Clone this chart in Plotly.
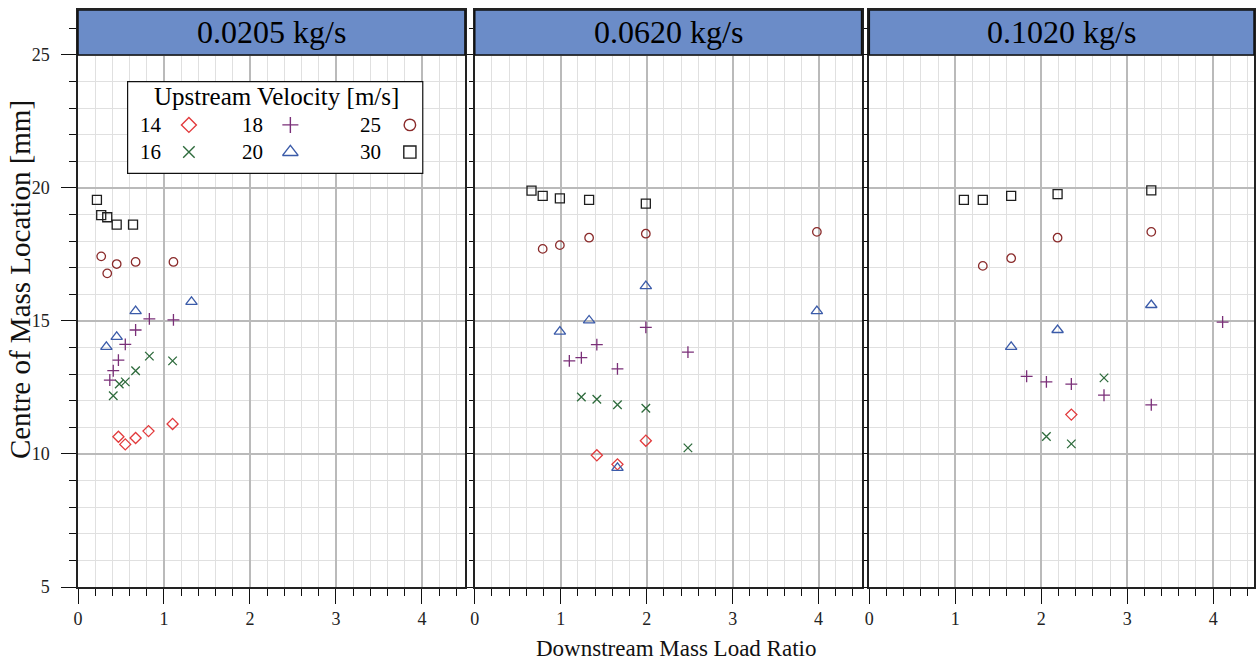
import plotly.graph_objects as go

# ---------------- data ----------------
panels = ["0.0205 kg/s", "0.0620 kg/s", "0.1020 kg/s"]
velocities = ["14", "16", "18", "20", "25", "30"]

# panel 1 : 0.0205 kg/s
p1_v14_x = [1.10, 0.82, 0.67, 0.47, 0.55]
p1_v14_y = [11.13, 10.86, 10.60, 10.65, 10.36]
p1_v16_x = [0.83, 1.10, 0.67, 0.55, 0.48, 0.41]
p1_v16_y = [13.68, 13.50, 13.13, 12.71, 12.63, 12.19]
p1_v18_x = [0.83, 1.11, 0.67, 0.55, 0.47, 0.41, 0.37]
p1_v18_y = [15.08, 15.04, 14.66, 14.12, 13.53, 13.13, 12.78]
p1_v20_x = [0.67, 1.32, 0.45, 0.33]
p1_v20_y = [15.37, 15.72, 14.40, 14.03]
p1_v25_x = [0.27, 0.45, 0.67, 1.11, 0.34]
p1_v25_y = [17.43, 17.14, 17.22, 17.22, 16.79]
p1_v30_x = [0.22, 0.27, 0.34, 0.45, 0.64]
p1_v30_y = [19.55, 18.98, 18.90, 18.62, 18.62]

# panel 2 : 0.0620 kg/s
p2_v14_x = [1.99, 1.42, 1.66]
p2_v14_y = [10.50, 9.95, 9.61]
p2_v16_x = [1.24, 1.42, 1.66, 1.99, 2.48]
p2_v16_y = [12.14, 12.06, 11.85, 11.72, 10.23]
p2_v18_x = [1.99, 2.48, 1.42, 1.24, 1.10, 1.66]
p2_v18_y = [14.76, 13.83, 14.11, 13.62, 13.50, 13.20]
p2_v20_x = [1.99, 3.98, 1.33, 0.99, 1.66]
p2_v20_y = [16.31, 15.37, 15.02, 14.60, 9.48]
p2_v25_x = [0.79, 0.99, 1.33, 1.99, 3.98]
p2_v25_y = [17.71, 17.85, 18.13, 18.28, 18.35]
p2_v30_x = [0.66, 0.79, 0.99, 1.33, 1.99]
p2_v30_y = [19.90, 19.70, 19.61, 19.55, 19.41]

# panel 3 : 0.1020 kg/s
p3_v14_x = [2.35]
p3_v14_y = [11.48]
p3_v16_x = [2.73, 2.06, 2.35]
p3_v16_y = [12.86, 10.66, 10.38]
p3_v18_x = [4.11, 1.83, 2.06, 2.35, 2.73, 3.28]
p3_v18_y = [14.96, 12.92, 12.71, 12.63, 12.21, 11.85]
p3_v20_x = [3.28, 2.19, 1.65]
p3_v20_y = [15.60, 14.66, 14.03]
p3_v25_x = [1.32, 1.65, 2.19, 3.28]
p3_v25_y = [17.07, 17.36, 18.13, 18.35]
p3_v30_x = [1.10, 1.32, 1.65, 2.19, 3.28]
p3_v30_y = [19.55, 19.55, 19.70, 19.77, 19.91]

data = [
    {"14": (p1_v14_x, p1_v14_y), "16": (p1_v16_x, p1_v16_y), "18": (p1_v18_x, p1_v18_y),
     "20": (p1_v20_x, p1_v20_y), "25": (p1_v25_x, p1_v25_y), "30": (p1_v30_x, p1_v30_y)},
    {"14": (p2_v14_x, p2_v14_y), "16": (p2_v16_x, p2_v16_y), "18": (p2_v18_x, p2_v18_y),
     "20": (p2_v20_x, p2_v20_y), "25": (p2_v25_x, p2_v25_y), "30": (p2_v30_x, p2_v30_y)},
    {"14": (p3_v14_x, p3_v14_y), "16": (p3_v16_x, p3_v16_y), "18": (p3_v18_x, p3_v18_y),
     "20": (p3_v20_x, p3_v20_y), "25": (p3_v25_x, p3_v25_y), "30": (p3_v30_x, p3_v30_y)},
]

# ---------------- styles ----------------
FONT = "Liberation Serif"
styles = {
    "14": dict(symbol="diamond-open", color="#e23a3c", size=8.5),
    "16": dict(symbol="x-thin-open", color="#2e6b3c", size=8.5),
    "18": dict(symbol="cross-thin-open", color="#7a2f78", size=8.5),
    "20": dict(symbol="triangle-up-open", color="#3b5ba9", size=10),
    "25": dict(symbol="circle-open", color="#8a2a2a", size=8.5),
    "30": dict(symbol="square-open", color="#1e1e1e", size=9),
}
LEG_SCALE = 1.35

W, H = 1256, 660
ML, MR, MT, MB = 78, 0, 10, 73
PW, PH = W - ML - MR, H - MT - MB
domains = [[0.0, 0.329], [0.3374, 0.6663], [0.6729, 1.0]]
xranges = [[0, 4.5], [0, 4.5], [0, 4.475]]
YR = [5, 26.69]

fig = go.Figure()

for i, pdata in enumerate(data):
    xa = "x" if i == 0 else f"x{i+1}"
    ya = "y" if i == 0 else f"y{i+1}"
    for v in velocities:
        xs, ys = pdata[v]
        st = styles[v]
        fig.add_trace(go.Scatter(
            x=xs, y=ys, mode="markers", xaxis=xa, yaxis=ya, showlegend=False,
            name=v, cliponaxis=False,
            marker=dict(symbol=st["symbol"], size=st["size"], color=st["color"],
                        line=dict(color=st["color"], width=1.3)),
        ))

# axes
for i in range(3):
    xk = "xaxis" if i == 0 else f"xaxis{i+1}"
    yk = "yaxis" if i == 0 else f"yaxis{i+1}"
    fig.layout[xk] = dict(
        domain=domains[i], range=xranges[i], anchor="y" if i == 0 else f"y{i+1}",
        tick0=0, dtick=1, showgrid=True, gridcolor="#bababa", gridwidth=1.6,
        ticks="outside", ticklen=15, tickwidth=1.2, tickcolor="#111",
        showline=True, linecolor="#222", linewidth=1.5, mirror=True,
        zeroline=False,
        tickfont=dict(family=FONT, size=18, color="#222"),
        minor=dict(dtick=0.2, tick0=0, showgrid=True, gridcolor="#e0e0e0", gridwidth=1,
                   ticks="outside", ticklen=7, tickwidth=1.2, tickcolor="#111"),
    )
    fig.layout[yk] = dict(
        domain=[0, 1], range=YR, anchor="x" if i == 0 else f"x{i+1}",
        tick0=0, dtick=5, showgrid=True, gridcolor="#bababa", gridwidth=1.6,
        ticks="outside", ticklen=15 if i == 0 else 6, tickwidth=1.2, tickcolor="#111",
        showline=True, linecolor="#222", linewidth=1.5, mirror=True,
        zeroline=False, showticklabels=(i == 0), ticklabelstandoff=8,
        tickfont=dict(family=FONT, size=18, color="#222"),
        minor=dict(dtick=1, tick0=0, showgrid=True, gridcolor="#e0e0e0", gridwidth=1,
                   ticks="outside", ticklen=7 if i == 0 else 4, tickwidth=1.2, tickcolor="#111"),
    )

shapes = []
annotations = []

# strips
for i in range(3):
    xd = "x domain" if i == 0 else f"x{i+1} domain"
    yr = "y" if i == 0 else f"y{i+1}"
    shapes.append(dict(type="rect", xref=xd, yref=yr, x0=0, x1=1, y0=25, y1=YR[1],
                       fillcolor="#6b8cc8", line=dict(color="#111", width=1.5), layer="above"))
    annotations.append(dict(xref=xd, yref=yr, x=0.5,
                            y=(25 + YR[1]) / 2, text=panels[i], showarrow=False,
                            font=dict(family=FONT, size=32, color="#000"),
                            xanchor="center", yanchor="middle"))

# legend (panel 1 data coordinates)
LEG_X0, LEG_X1, LEG_Y0, LEG_Y1 = 0.577, 4.01, 20.55, 24.0
shapes.append(dict(type="rect", xref="x", yref="y", x0=LEG_X0, x1=LEG_X1, y0=LEG_Y0, y1=LEG_Y1,
                   fillcolor="white", line=dict(color="#111", width=1.2), layer="between"))
annotations.append(dict(xref="x", yref="y", x=2.31, y=23.42, text="Upstream Velocity [m/s]",
                        showarrow=False, font=dict(family=FONT, size=25, color="#000"),
                        xanchor="center", yanchor="middle"))
leg_num_cols = [0.844, 2.03, 3.40]
leg_sym_cols = [1.29, 2.47, 3.86]
leg_rows = [22.37, 21.35]
for k, v in enumerate(velocities):
    c, r = k // 2, k % 2
    annotations.append(dict(xref="x", yref="y", x=leg_num_cols[c], y=leg_rows[r], text=v,
                            showarrow=False, font=dict(family=FONT, size=21, color="#000"),
                            xanchor="center", yanchor="middle"))
    st = styles[v]
    fig.add_trace(go.Scatter(
        x=[leg_sym_cols[c]], y=[leg_rows[r]], mode="markers", xaxis="x", yaxis="y",
        showlegend=False, hoverinfo="skip",
        marker=dict(symbol=st["symbol"], size=st["size"] * LEG_SCALE, color=st["color"],
                    line=dict(color=st["color"], width=1.4)),
    ))

# axis titles
annotations.append(dict(xref="paper", yref="paper", x=(677 - ML) / PW, y=(H - MB - 648) / PH,
                        text="Downstream Mass Load Ratio", showarrow=False,
                        font=dict(family=FONT, size=23, color="#111"),
                        xanchor="center", yanchor="middle"))
annotations.append(dict(xref="paper", yref="paper", x=(20 - ML) / PW, y=(H - MB - 280) / PH,
                        text="Centre of Mass Location [mm]", showarrow=False, textangle=-90,
                        font=dict(family=FONT, size=29, color="#111"),
                        xanchor="center", yanchor="middle"))

fig.update_layout(
    width=W, height=H, margin=dict(l=ML, r=MR, t=MT, b=MB, pad=0),
    plot_bgcolor="white", paper_bgcolor="white", showlegend=False,
    shapes=shapes, annotations=annotations,
    font=dict(family=FONT),
)

fig.write_html("out.html")
